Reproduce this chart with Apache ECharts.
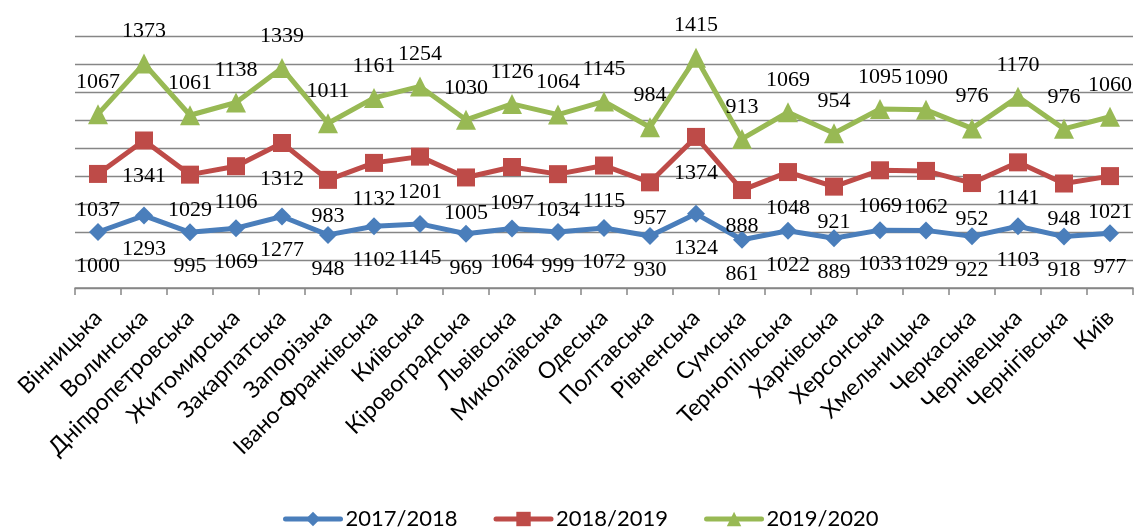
<!DOCTYPE html>
<html>
<head>
<meta charset="utf-8">
<script src="https://cdn.jsdelivr.net/npm/echarts@6/dist/echarts.min.js"></script>
<style>
  html, body { margin: 0; padding: 0; background: #ffffff; }
  #chart { width: 1137px; height: 529px; }
</style>
</head>
<body>
<div id="chart"></div>
<script>
// Regions (oblasts) along the category axis
const regions = [
  'Вінницька', 'Волинська', 'Дніпропетровська', 'Житомирська', 'Закарпатська',
  'Запорізька', 'Івано-Франківська', 'Київська', 'Кіровоградська', 'Львівська',
  'Миколаївська', 'Одеська', 'Полтавська', 'Рівненська', 'Сумська',
  'Тернопільська', 'Харківська', 'Херсонська', 'Хмельницька', 'Черкаська',
  'Чернівецька', 'Чернігівська', 'Київ'
];

// Values per academic year (lines are stacked on top of each other)
const y2017_2018 = [1000, 1293, 995, 1069, 1277, 948, 1102, 1145, 969, 1064, 999, 1072,
                    930, 1324, 861, 1022, 889, 1033, 1029, 922, 1103, 918, 977];
const y2018_2019 = [1037, 1341, 1029, 1106, 1312, 983, 1132, 1201, 1005, 1097, 1034, 1115,
                    957, 1374, 888, 1048, 921, 1069, 1062, 952, 1141, 948, 1021];
const y2019_2020 = [1067, 1373, 1061, 1138, 1339, 1011, 1161, 1254, 1030, 1126, 1064, 1145,
                    984, 1415, 913, 1069, 954, 1095, 1090, 976, 1170, 976, 1060];

const seriesNames = ['2017/2018', '2018/2019', '2019/2020'];

const chart = echarts.init(document.getElementById('chart'), null, { renderer: 'canvas' });

const labelFont = {
  fontFamily: '"Liberation Serif", "Times New Roman", serif',
  fontSize: 22,
  color: '#000000'
};

function lineSeries(name, data, color, symbol, size, labelOffsetY) {
  return {
    name: name,
    type: 'line',
    stack: 'total',
    data: data,
    symbol: symbol,
    symbolSize: size,
    showAllSymbol: true,
    lineStyle: { color: color, width: 5, join: 'round', cap: 'round' },
    itemStyle: { color: color, borderWidth: 0 },
    emphasis: { disabled: true },
    label: {
      show: true,
      position: 'inside',
      offset: [0, labelOffsetY],
      ...labelFont
    }
  };
}

chart.setOption({
  animation: false,
  backgroundColor: '#ffffff',
  grid: { left: 75, right: 4, top: 36, bottom: 241, containLabel: false },
  legend: {
    left: 278,
    top: 503,
    itemWidth: 55,
    itemHeight: 18,
    itemGap: 36,
    lineStyle: { width: 5, cap: 'round' },
    textStyle: {
      fontFamily: 'Lato, "Open Sans", sans-serif',
      fontSize: 22,
      color: '#000000'
    },
    data: seriesNames
  },
  xAxis: {
    type: 'category',
    data: regions,
    boundaryGap: true,
    axisLine: { lineStyle: { color: '#868686', width: 1.5 } },
    axisTick: { show: true, length: 7, lineStyle: { color: '#868686', width: 1.5 } },
    axisLabel: {
      interval: 0,
      rotate: 45,
      margin: 26,
      fontFamily: 'Lato, "Open Sans", sans-serif',
      fontSize: 23,
      color: '#000000'
    },
    splitLine: { show: false }
  },
  yAxis: {
    type: 'value',
    min: 0,
    max: 4500,
    interval: 500,
    axisLine: { show: false },
    axisTick: { show: false },
    axisLabel: { show: false },
    splitLine: { lineStyle: { color: '#868686', width: 1.3 } }
  },
  series: [
    lineSeries(seriesNames[0], y2017_2018, '#4A7EBB', 'diamond', 18, 34),
    lineSeries(seriesNames[1], y2018_2019, '#BE4B48', 'rect', 18, 36),
    lineSeries(seriesNames[2], y2019_2020, '#98B954', 'triangle', 20, -32)
  ]
});
</script>
</body>
</html>
